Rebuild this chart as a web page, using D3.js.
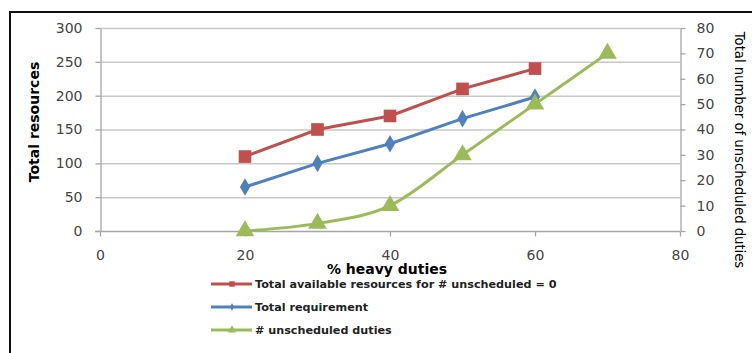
<!DOCTYPE html>
<html>
<head>
<meta charset="utf-8">
<script src="https://cdn.jsdelivr.net/npm/d3@7"></script>
<style>
  html, body { margin: 0; padding: 0; background: #fff; }
  svg { display: block; }
  text { font-family: "DejaVu Sans", sans-serif; }
</style>
</head>
<body>
<svg id="chart" width="752" height="353"></svg>
<script>
// Heavy-duty share (%) on the x axis
const heavyPct = [20, 30, 40, 50, 60];
const heavyPctGreen = [20, 30, 40, 50, 60, 70];

// Left axis series (total resources)
const availableResources = [110, 150, 170, 210, 240];
const totalRequirement = [65, 100, 129, 166, 198];

// Right axis series (number of unscheduled duties)
const unscheduledDuties = [0, 3, 10, 30, 50, 70];

const xTicks = [0, 20, 40, 60, 80];
const leftTicks = [0, 50, 100, 150, 200, 250, 300];
const rightTicks = [0, 10, 20, 30, 40, 50, 60, 70, 80];

const legendLabels = [
  "Total available resources for # unscheduled = 0",
  "Total requirement",
  "# unscheduled duties"
];

const colors = { red: "#C0504D", blue: "#4F81BD", green: "#9BBB59" };

const svg = d3.select("#chart");

// Outer frame (top and left edges visible)
svg.append("path")
  .attr("d", "M10,353 L10,12 L752,12")
  .attr("fill", "none").attr("stroke", "#111").attr("stroke-width", 2);

const plot = { left: 100, right: 680, top: 28, bottom: 231 };

const x = d3.scaleLinear().domain([0, 80]).range([plot.left, plot.right]);
const yL = d3.scaleLinear().domain([0, 300]).range([plot.bottom, plot.top]);
const yR = d3.scaleLinear().domain([0, 80]).range([plot.bottom, plot.top]);

// Horizontal gridlines
svg.append("g")
  .selectAll("line").data(leftTicks.filter(d => d > 0)).join("line")
  .attr("x1", plot.left).attr("x2", plot.right)
  .attr("y1", d => yL(d) + 0.5).attr("y2", d => yL(d) + 0.5)
  .attr("stroke", "#c8c8c8").attr("stroke-width", 1.5);

const tickColor = "#444";
const axisStroke = "#a6a6a6";

function styleAxis(g) {
  g.select(".domain").attr("stroke", axisStroke).attr("stroke-width", 1.3);
  g.selectAll(".tick line").attr("stroke", axisStroke).attr("stroke-width", 1.3);
  g.selectAll(".tick text").attr("fill", tickColor)
    .style("font-family", "DejaVu Sans, sans-serif").style("font-size", "14px");
}

// Left axis
svg.append("g").attr("transform", `translate(${plot.left + 0.5},0)`)
  .call(d3.axisLeft(yL).tickValues(leftTicks).tickSizeInner(5).tickSizeOuter(0).tickPadding(13))
  .call(styleAxis);

// Right axis
svg.append("g").attr("transform", `translate(${plot.right + 0.5},0)`)
  .call(d3.axisRight(yR).tickValues(rightTicks).tickSizeInner(5).tickSizeOuter(0).tickPadding(11))
  .call(styleAxis);

// Bottom axis
svg.append("g").attr("transform", `translate(0,${plot.bottom + 0.5})`)
  .call(d3.axisBottom(x).tickValues(xTicks).tickSizeInner(5).tickSizeOuter(0).tickPadding(14))
  .call(styleAxis)
  .call(g => g.select(".domain").attr("d", `M${plot.left - 5},0H${plot.right}`));

// Axis titles
svg.append("text")
  .attr("transform", `translate(39,122) rotate(-90)`)
  .attr("text-anchor", "middle")
  .style("font-size", "14px").style("font-weight", "bold")
  .text("Total resources");

svg.append("text")
  .attr("x", 387).attr("y", 274)
  .attr("text-anchor", "middle")
  .style("font-size", "14px").style("font-weight", "bold")
  .text("% heavy duties");

svg.append("text")
  .attr("transform", `translate(735,150) rotate(90)`)
  .attr("text-anchor", "middle")
  .style("font-size", "13.2px")
  .text("Total number of unscheduled duties");

// Series
const lineStraight = (xs, ys, yScale) => d3.line()
  .x((d, i) => x(xs[i])).y(d => yScale(d))(ys);

svg.append("path")
  .attr("d", lineStraight(heavyPct, availableResources, yL))
  .attr("fill", "none").attr("stroke", colors.red).attr("stroke-width", 3);

svg.append("path")
  .attr("d", lineStraight(heavyPct, totalRequirement, yL))
  .attr("fill", "none").attr("stroke", colors.blue).attr("stroke-width", 3);

svg.append("path")
  .attr("d", d3.line().curve(d3.curveCatmullRom.alpha(0))
    .x((d, i) => x(heavyPctGreen[i])).y(d => yR(d))(unscheduledDuties))
  .attr("fill", "none").attr("stroke", colors.green).attr("stroke-width", 3);

// Markers
const sq = d3.symbol().type(d3.symbolSquare).size(160);
const dia = d3.symbol().type(d3.symbolDiamond).size(90);
const tri = d3.symbol().type(d3.symbolTriangle).size(150);

svg.append("g").selectAll("path").data(availableResources).join("path")
  .attr("d", sq)
  .attr("transform", (d, i) => `translate(${x(heavyPct[i])},${yL(d)})`)
  .attr("fill", colors.red);

svg.append("g").selectAll("path").data(totalRequirement).join("path")
  .attr("d", dia)
  .attr("transform", (d, i) => `translate(${x(heavyPct[i])},${yL(d)})`)
  .attr("fill", colors.blue);

svg.append("g").selectAll("path").data(unscheduledDuties).join("path")
  .attr("d", tri)
  .attr("transform", (d, i) => `translate(${x(heavyPctGreen[i])},${yR(d)})`)
  .attr("fill", colors.green);

// Legend
const legendItems = [
  { label: legendLabels[0], color: colors.red, sym: d3.symbol().type(d3.symbolSquare).size(30) },
  { label: legendLabels[1], color: colors.blue, sym: d3.symbol().type(d3.symbolDiamond).size(16) },
  { label: legendLabels[2], color: colors.green, sym: d3.symbol().type(d3.symbolTriangle).size(30) }
];

const legend = svg.append("g").attr("transform", "translate(211,284)");
const rows = legend.selectAll("g").data(legendItems).join("g")
  .attr("transform", (d, i) => `translate(0,${i * 23})`);
rows.append("line")
  .attr("x1", 0).attr("x2", 41).attr("y1", 0).attr("y2", 0)
  .attr("stroke", d => d.color).attr("stroke-width", 3);
rows.append("path")
  .attr("d", d => d.sym())
  .attr("transform", "translate(21,0)")
  .attr("fill", d => d.color);
rows.append("text")
  .attr("x", 44).attr("y", 4)
  .style("font-size", "11.2px").style("font-weight", "bold").attr("fill", "#222")
  .text(d => d.label);
</script>
</body>
</html>
